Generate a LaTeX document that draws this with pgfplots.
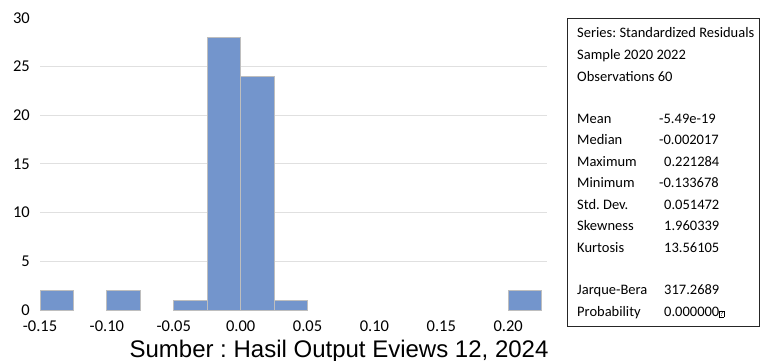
\documentclass[border=0pt]{standalone}
\usepackage{pgfplots}
\pgfplotsset{compat=1.18}
\usepackage{fontspec}
\setmainfont{Carlito}
\newfontfamily\capfont{Liberation Sans}
\definecolor{barblue}{RGB}{115,149,204}
\definecolor{baredge}{RGB}{190,190,190}
\definecolor{gridgray}{RGB}{224,224,224}
\newcommand{\bx}{\fontsize{14.5bp}{17bp}\selectfont}
\frenchspacing
\begin{document}
\frenchspacing
\begin{tikzpicture}
\useasboundingbox (0,0) rectangle (760bp,361bp);
\begin{axis}[
 at={(40bp,51bp)}, anchor=south west,
 scale only axis, width=507bp, height=292bp,
 xmin=-0.15, xmax=0.229, ymin=0, ymax=30,
 axis line style={draw=none},
 tick style={draw=none},
 xtick={-0.15,-0.10,-0.05,0,0.05,0.10,0.15,0.20},
 xticklabels={-0.15,-0.10,-0.05,0.00,0.05,0.10,0.15,0.20},
 ytick={5,10,15,20,25},
 yticklabels={5,10,15,20,25},
 ymajorgrids,
 major grid style={gridgray, line width=1bp},
 extra y ticks={0,30},
 extra y tick labels={0,30},
 extra y tick style={grid=none},
 tick label style={font=\fontsize{16.5bp}{19bp}\selectfont},
 yticklabel style={anchor=east, inner sep=0pt, xshift=-10bp},
 xticklabel style={anchor=north, inner sep=0pt, yshift=-10.5bp},
 clip=false,
]
\addplot[ybar, bar width=0.025, bar shift=0pt, fill=barblue, draw=baredge, line width=1bp]
 coordinates {(-0.1375,2) (-0.0875,2) (-0.0375,1) (-0.0125,28) (0.0125,24) (0.0375,1) (0.2125,2)};
\end{axis}
\draw[black!85, line width=1bp] (567bp,34bp) rectangle (759bp,342bp);
\begin{scope}[every node/.style={inner sep=0pt, font=\bx\frenchspacing}]
\node[anchor=base west] at (577bp,323.5bp) {Series: Standardized Residuals};
\node[anchor=base west] at (577bp,301.5bp) {Sample 2020 2022};
\node[anchor=base west] at (577bp,279.5bp) {Observations 60};
\node[anchor=base west] at (577bp,237.5bp) {Mean};
\node[anchor=base west] at (577bp,216bp) {Median};
\node[anchor=base west] at (577bp,194.5bp) {Maximum};
\node[anchor=base west] at (577bp,173bp) {Minimum};
\node[anchor=base west] at (577bp,151.5bp) {Std.\ Dev.};
\node[anchor=base west] at (577bp,130bp) {Skewness};
\node[anchor=base west] at (577bp,108.5bp) {Kurtosis};
\node[anchor=base west] at (577bp,66bp) {Jarque-Bera};
\node[anchor=base west] at (577bp,44.5bp) {Probability};
\node[anchor=base west] at (659bp,237.5bp) {-5.49e-19};
\node[anchor=base west] at (659bp,216bp) {-0.002017};
\node[anchor=base west] at (664bp,194.5bp) {0.221284};
\node[anchor=base west] at (659bp,173bp) {-0.133678};
\node[anchor=base west] at (664bp,151.5bp) {0.051472};
\node[anchor=base west] at (664bp,130bp) {1.960339};
\node[anchor=base west] at (664bp,108.5bp) {13.56105};
\node[anchor=base west] at (664bp,66bp) {317.2689};
\node[anchor=base west] at (664bp,44.5bp) {0.000000{\setlength{\fboxsep}{0.3pt}\setlength{\fboxrule}{0.5pt}\fbox{\fontsize{7.5bp}{8bp}\selectfont ?}}};
\end{scope}
\node[anchor=base, inner sep=0pt, font=\capfont\fontsize{24bp}{28bp}\selectfont] at (339bp,4bp) {Sumber :\ Hasil Output Eviews 12, 2024};
\end{tikzpicture}
\end{document}
